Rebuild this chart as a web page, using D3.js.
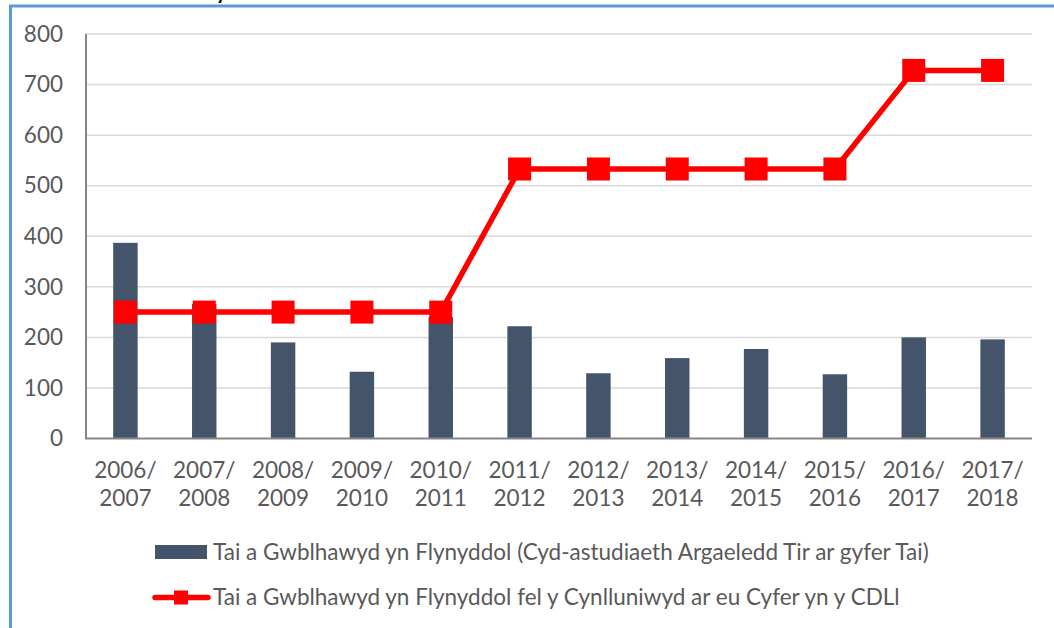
<!DOCTYPE html>
<html>
<head>
<meta charset="utf-8">
<script src="https://cdn.jsdelivr.net/npm/d3@7"></script>
<style>
  html, body { margin: 0; padding: 0; background: #fff; }
  svg { display: block; }
</style>
</head>
<body>
<svg></svg>
<script>
/** Chart data */
let years = ['2006/2007', '2007/2008', '2008/2009', '2009/2010', '2010/2011', '2011/2012',
             '2012/2013', '2013/2014', '2014/2015', '2015/2016', '2016/2017', '2017/2018'];
let completed = [387, 266, 190, 132, 240, 222, 129, 159, 177, 127, 200, 196];
let planned = [250, 250, 250, 250, 250, 533, 533, 533, 533, 533, 728, 728];
let yTicks = [0, 100, 200, 300, 400, 500, 600, 700, 800];
let barLabel = 'Tai a Gwblhawyd yn Flynyddol (Cyd-astudiaeth Argaeledd Tir ar gyfer Tai)';
let lineLabel = 'Tai a Gwblhawyd yn Flynyddol fel y Cynlluniwyd ar eu Cyfer yn y CDLl';

let width = 1054;
let height = 628;
let plotLeft = 86, plotRight = 1032, plotTop = 34, plotBottom = 438.5;
let font = 'Lato, "Open Sans", sans-serif';
let fontSize = 22.5;
let textColor = '#595959';

let svg = d3.select('svg').attr('width', width).attr('height', height);

svg.append('rect').attr('width', width).attr('height', height).attr('fill', '#fff');

// frame round the chart (only left and top edges show)
svg.append('path')
    .attr('d', `M10.5,${height} V6 H${width}`)
    .attr('fill', 'none')
    .attr('stroke', '#5b9bd5')
    .attr('stroke-width', 3)

// title sits above the frame, only its descender shows
svg.append('text')
    .attr('x', 216).attr('y', -1)
    .attr('font-family', font).attr('font-size', 20).attr('font-weight', 'bold')
    .attr('fill', '#000')
    .text('y')

let xScale = d3.scaleBand()
    .domain(years)
    .range([plotLeft, plotRight])
    .paddingInner(0.69)
    .paddingOuter(0.345)

let yScale = d3.scaleLinear()
    .domain([0, 800])
    .range([plotBottom, plotTop])

// gridlines
svg.append('g')
    .selectAll('line')
    .data(yTicks.filter(d => d > 0))
    .enter()
    .append('line')
    .attr('x1', plotLeft).attr('x2', plotRight)
    .attr('y1', d => yScale(d)).attr('y2', d => yScale(d))
    .attr('stroke', '#d9d9d9')
    .attr('stroke-width', 1.5)

// y axis labels
let yAxis = d3.axisLeft(yScale).tickValues(yTicks).tickSize(0).tickPadding(23);
let yG = svg.append('g').attr('transform', `translate(${plotLeft},0)`).call(yAxis);
yG.select('.domain').remove();
yG.selectAll('text')
    .attr('font-family', font).attr('font-size', fontSize).attr('fill', textColor)

// bars
svg.append('g')
    .selectAll('rect')
    .data(completed)
    .enter()
    .append('rect')
    .attr('x', (d, i) => xScale(years[i]))
    .attr('y', d => yScale(d))
    .attr('width', xScale.bandwidth())
    .attr('height', d => yScale(0) - yScale(d))
    .attr('fill', '#44546a')

// axis lines
svg.append('line')
    .attr('x1', plotLeft).attr('x2', plotLeft).attr('y1', plotTop).attr('y2', plotBottom)
    .attr('stroke', '#868686').attr('stroke-width', 2)
svg.append('line')
    .attr('x1', plotLeft - 1).attr('x2', plotRight).attr('y1', plotBottom).attr('y2', plotBottom)
    .attr('stroke', '#868686').attr('stroke-width', 2)

// x labels on two lines
let cx = d => xScale(d) + xScale.bandwidth() / 2;
let xLab = svg.append('g')
    .selectAll('text')
    .data(years)
    .enter()
    .append('text')
    .attr('text-anchor', 'middle')
    .attr('font-family', font).attr('font-size', fontSize).attr('fill', textColor)
xLab.append('tspan').attr('x', cx).attr('y', 478).text(d => d.split('/')[0] + '/')
xLab.append('tspan').attr('x', cx).attr('y', 506).text(d => d.split('/')[1])

// planned line + square markers
let line = d3.line()
    .x((d, i) => cx(years[i]))
    .y(d => yScale(d))

svg.append('path')
    .datum(planned)
    .attr('d', line)
    .attr('fill', 'none')
    .attr('stroke', '#ff0000')
    .attr('stroke-width', 5.5)
    .attr('stroke-linejoin', 'round')

svg.append('g')
    .selectAll('rect')
    .data(planned)
    .enter()
    .append('rect')
    .attr('x', (d, i) => cx(years[i]) - 11.5)
    .attr('y', d => yScale(d) - 11.5)
    .attr('width', 23).attr('height', 23)
    .attr('fill', '#ff0000')

// legend
let legend = svg.append('g');
legend.append('rect')
    .attr('x', 155).attr('y', 545).attr('width', 52).attr('height', 14)
    .attr('fill', '#44546a')
legend.append('text')
    .attr('x', 213).attr('y', 560)
    .attr('font-family', font).attr('font-size', fontSize).attr('fill', textColor)
    .text(barLabel)

legend.append('line')
    .attr('x1', 155).attr('x2', 208).attr('y1', 597.5).attr('y2', 597.5)
    .attr('stroke', '#ff0000').attr('stroke-width', 5.5).attr('stroke-linecap', 'round')
legend.append('rect')
    .attr('x', 174).attr('y', 590.5).attr('width', 14).attr('height', 14)
    .attr('fill', '#ff0000')
legend.append('text')
    .attr('x', 213).attr('y', 605)
    .attr('font-family', font).attr('font-size', fontSize).attr('fill', textColor)
    .text(lineLabel)
</script>
</body>
</html>
